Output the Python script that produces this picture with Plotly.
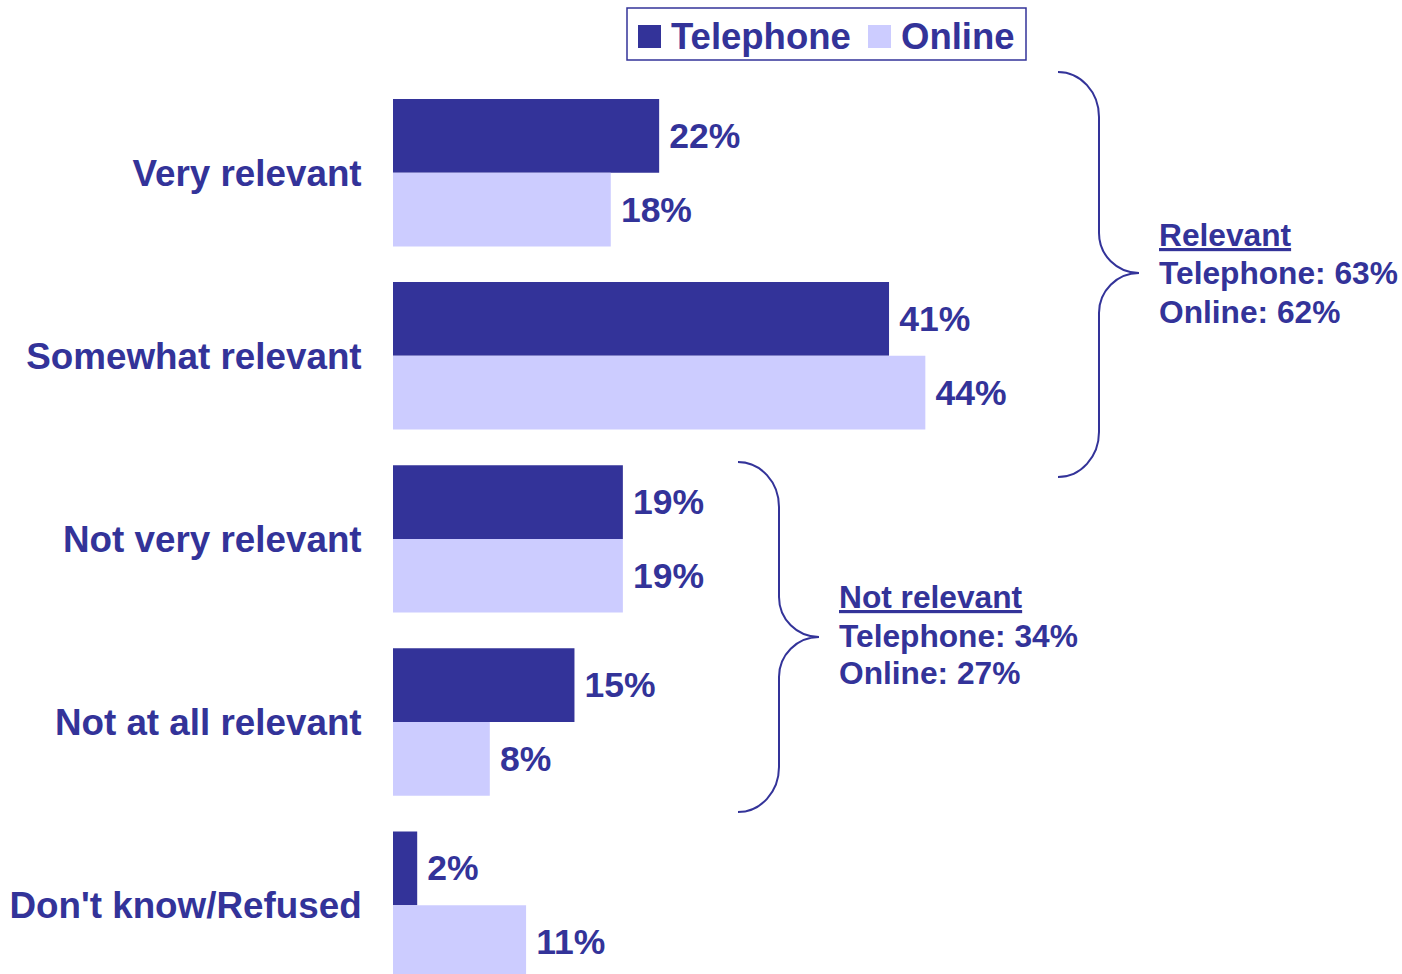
import plotly.graph_objects as go

# Survey results: how relevant respondents found the topic, by survey mode
categories = ["Very relevant", "Somewhat relevant", "Not very relevant",
              "Not at all relevant", "Don't know/Refused"]
telephone = [22, 41, 19, 15, 2]
online = [18, 44, 19, 8, 11]

summary_relevant = {"title": "Relevant", "Telephone": 63, "Online": 62}
summary_not_relevant = {"title": "Not relevant", "Telephone": 34, "Online": 27}

DARK = "#333399"
LIGHT = "#CCCCFF"
FONT = "Liberation Sans, Arial, sans-serif"

W, H = 1402, 974
LEFT = 393


def fx(p):
    """Page pixel x -> paper x."""
    return (p - LEFT) / (W - LEFT)


def fy(p):
    """Page pixel y -> paper y."""
    return 1 - p / H


def brace_path(x0, xs, xt, yt, ym, yb, r_end=45, r_mid=40):
    """Right-pointing curly brace in paper coordinates (inputs in page pixels)."""
    k = 0.552

    def P(x, y):
        return f"{fx(x):.5f},{fy(y):.5f}"

    d = f"M{P(x0, yt)} "
    d += f"C{P(x0 + k * (xs - x0), yt)} {P(xs, yt + r_end * (1 - k))} {P(xs, yt + r_end)} "
    d += f"L{P(xs, ym - r_mid)} "
    d += f"C{P(xs, ym - r_mid * (1 - k))} {P(xt - k * (xt - xs), ym)} {P(xt, ym)} "
    d += f"C{P(xt - k * (xt - xs), ym)} {P(xs, ym + r_mid * (1 - k))} {P(xs, ym + r_mid)} "
    d += f"L{P(xs, yb - r_end)} "
    d += f"C{P(xs, yb - r_end * (1 - k))} {P(x0 + k * (xs - x0), yb)} {P(x0, yb)}"
    return d


def bar_labels(values):
    # thin space keeps the label a little away from the bar end
    return [f"<b>\u2009{v}%</b>" for v in values]


fig = go.Figure()
fig.add_trace(go.Bar(
    name="Telephone", y=categories, x=telephone, orientation="h",
    marker=dict(color=DARK, line=dict(width=0)),
    text=bar_labels(telephone), textposition="outside",
    textfont=dict(family=FONT, size=35.5, color=DARK),
    constraintext="none", cliponaxis=False, showlegend=False,
))
fig.add_trace(go.Bar(
    name="Online", y=categories, x=online, orientation="h",
    marker=dict(color=LIGHT, line=dict(width=0)),
    text=bar_labels(online), textposition="outside",
    textfont=dict(family=FONT, size=35.5, color=DARK),
    constraintext="none", cliponaxis=False, showlegend=False,
))

shapes = []
annotations = []

# Legend box
shapes.append(dict(type="rect", xref="paper", yref="paper",
                   x0=fx(627), x1=fx(1026), y0=fy(60), y1=fy(8),
                   line=dict(color=DARK, width=1.5), fillcolor="rgba(0,0,0,0)"))
shapes.append(dict(type="rect", xref="paper", yref="paper",
                   x0=fx(638), x1=fx(661), y0=fy(48), y1=fy(25),
                   line=dict(width=0), fillcolor=DARK))
shapes.append(dict(type="rect", xref="paper", yref="paper",
                   x0=fx(868), x1=fx(891), y0=fy(48), y1=fy(25),
                   line=dict(width=0), fillcolor=LIGHT))
for label, xpix in (("Telephone", 669), ("Online", 899)):
    annotations.append(dict(text=f"<b>{label}</b>", xref="paper", yref="paper",
                            x=fx(xpix), y=fy(37), xanchor="left", yanchor="middle",
                            showarrow=False,
                            font=dict(family=FONT, size=36.5, color=DARK)))

# Braces grouping the answer categories
shapes.append(dict(type="path", xref="paper", yref="paper",
                   path=brace_path(1058, 1099, 1139, 72, 273, 477),
                   line=dict(color=DARK, width=2)))
shapes.append(dict(type="path", xref="paper", yref="paper",
                   path=brace_path(738, 779, 819, 462, 637, 812),
                   line=dict(color=DARK, width=2)))

for summ, xpix, ys in ((summary_relevant, 1157, (235, 273, 312)),
                       (summary_not_relevant, 837, (597, 636, 673))):
    lines = [f"<b><u>{summ['title']}</u></b>",
             f"<b>Telephone: {summ['Telephone']}%</b>",
             f"<b>Online: {summ['Online']}%</b>"]
    for txt, ypix in zip(lines, ys):
        annotations.append(dict(text=txt, xref="paper", yref="paper",
                                x=fx(xpix), y=fy(ypix), xanchor="left",
                                yanchor="middle", showarrow=False,
                                font=dict(family=FONT, size=31.7, color=DARK)))

fig.update_layout(
    width=W, height=H,
    margin=dict(l=LEFT, r=0, t=0, b=0),
    paper_bgcolor="white", plot_bgcolor="white",
    barmode="group", bargap=0.195, bargroupgap=0,
    showlegend=False,
    xaxis=dict(range=[0, 83.4], visible=False, fixedrange=True),
    yaxis=dict(range=[4.376, -0.943], showgrid=False, zeroline=False,
               showline=False, ticks="outside", ticklen=23,
               tickcolor="rgba(0,0,0,0)",
               tickfont=dict(family=FONT, size=36.8, color=DARK)),
    shapes=shapes, annotations=annotations,
)
fig.update_yaxes(tickprefix="<b>", ticksuffix="</b>")

fig.write_html("out.html")
